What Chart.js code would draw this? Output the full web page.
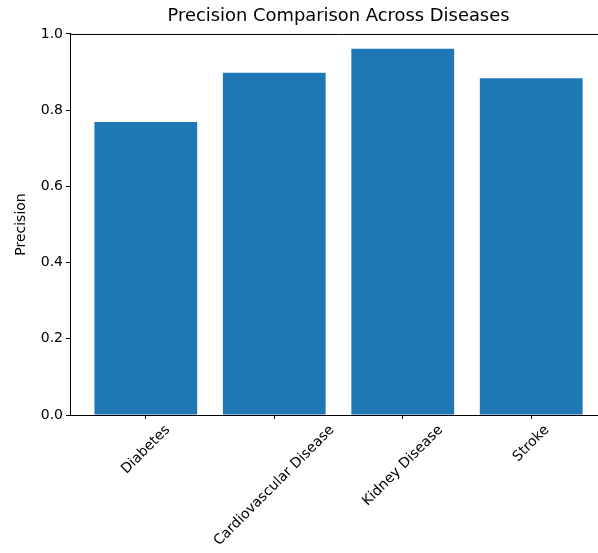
<!DOCTYPE html>
<html>
<head>
<meta charset="utf-8">
<script src="https://cdn.jsdelivr.net/npm/chart.js@4"></script>
<style>
  html, body { margin: 0; padding: 0; background: #fff; overflow: hidden; }
  #wrap { width: 620px; height: 553px; }
</style>
</head>
<body>
<div id="wrap"><canvas id="precisionChart" width="620" height="553"></canvas></div>
<script>
const diseases = ["Diabetes", "Cardiovascular Disease", "Kidney Disease", "Stroke"];
const precision = [0.769, 0.898, 0.961, 0.884];
const yTicks = [0.0, 0.2, 0.4, 0.6, 0.8, 1.0];

const FONT = "'DejaVu Sans', sans-serif";
const barBlue = "#1f77b4";

// top spine + x tick labels rotated 45deg, centred on the tick like matplotlib does
const decor = {
  id: "decor",
  afterDraw(chart) {
    const { ctx, chartArea } = chart;
    const xs = chart.scales.x;
    ctx.save();
    ctx.strokeStyle = "#000";
    ctx.lineWidth = 1;
    ctx.beginPath();
    ctx.moveTo(chartArea.left, chartArea.top + 0.5);
    ctx.lineTo(chartArea.right, chartArea.top + 0.5);
    ctx.stroke();

    ctx.font = "14px " + FONT;
    ctx.fillStyle = "#000";
    ctx.textAlign = "center";
    ctx.textBaseline = "middle";
    const top = chartArea.bottom + 7;
    xs.ticks.forEach((t, i) => {
      const label = diseases[t.value];
      if (!label) return;
      const w = ctx.measureText(label).width;
      const span = (w + 16.3) * Math.SQRT1_2;
      ctx.save();
      ctx.translate(xs.getPixelForTick(i), top + span / 2);
      ctx.rotate(-Math.PI / 4);
      ctx.fillText(label, 0, 0);
      ctx.restore();
    });
    ctx.restore();
  }
};

const ctx = document.getElementById("precisionChart").getContext("2d");
new Chart(ctx, {
  type: "bar",
  data: {
    datasets: [{
      label: "Precision",
      data: precision.map((v, i) => ({ x: i, y: v })),
      backgroundColor: barBlue,
      borderWidth: 0,
      barPercentage: 0.8,
      categoryPercentage: 1.0
    }]
  },
  plugins: [decor],
  options: {
    responsive: false,
    animation: false,
    layout: { padding: { left: 0, right: 13, top: 0, bottom: 0 } },
    plugins: {
      legend: { display: false },
      tooltip: { enabled: false },
      title: {
        display: true,
        text: "Precision Comparison Across Diseases",
        color: "#000",
        fullSize: false,
        font: { family: FONT, size: 17.9, weight: "normal" },
        padding: { top: 6, bottom: 6.5 }
      }
    },
    scales: {
      x: {
        type: "linear",
        min: -0.59,
        max: 3.59,
        offset: false,
        afterBuildTicks(scale) {
          scale.ticks = diseases.map((_, i) => ({ value: i }));
        },
        afterFit(scale) { scale.height = 138; },
        grid: { offset: false, drawOnChartArea: false, drawTicks: true, tickLength: 4, color: "#000" },
        border: { display: true, color: "#000", width: 1 },
        ticks: { display: false, autoSkip: false }
      },
      y: {
        min: 0,
        max: 1,
        afterBuildTicks(scale) {
          scale.ticks = yTicks.map(v => ({ value: v }));
        },
        afterFit(scale) { scale.width = 70; },
        grid: { drawOnChartArea: false, drawTicks: true, tickLength: 4, color: "#000" },
        border: { display: true, color: "#000", width: 1 },
        ticks: {
          color: "#000",
          font: { family: FONT, size: 14 },
          padding: 3,
          callback: (v) => v.toFixed(1)
        },
        title: {
          display: true,
          text: "Precision",
          color: "#000",
          font: { family: FONT, size: 14 },
          padding: { top: 12.5, bottom: 0 }
        }
      }
    }
  }
});
</script>
</body>
</html>
